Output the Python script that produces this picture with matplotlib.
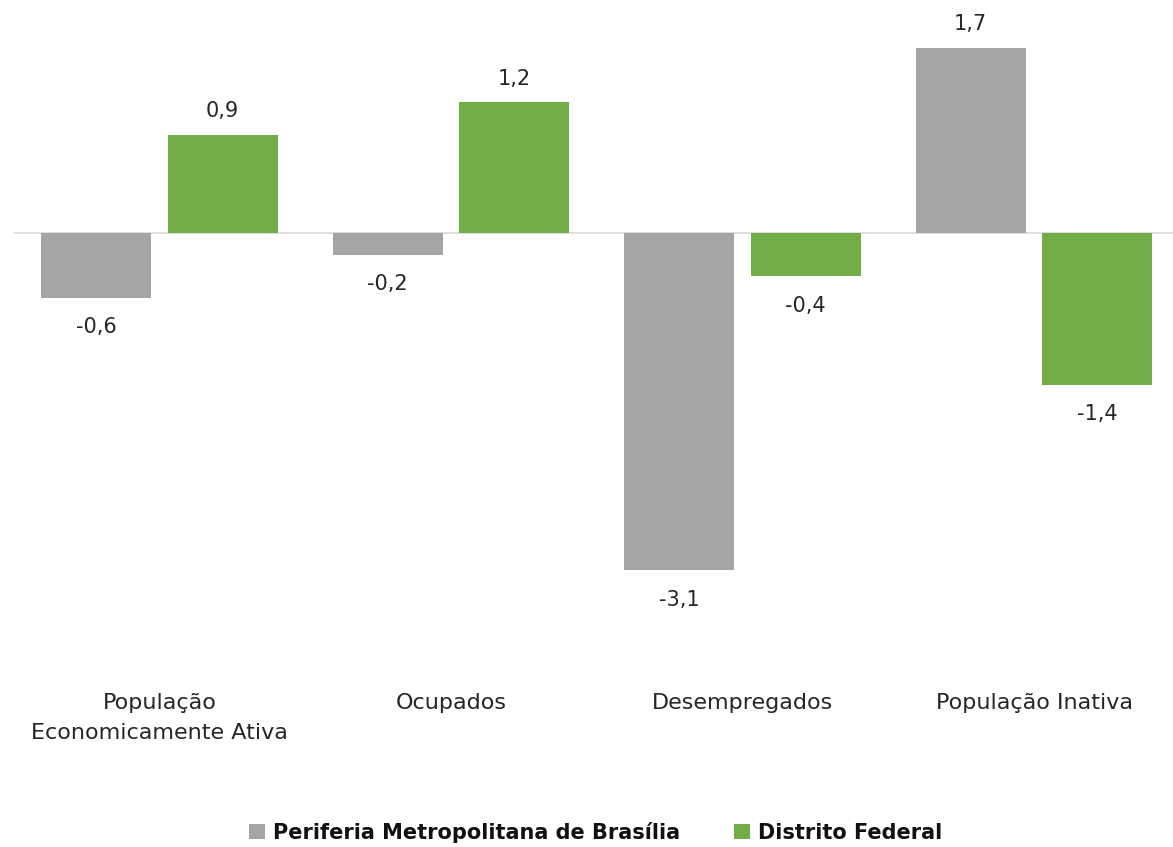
import matplotlib
matplotlib.use("Agg")
import matplotlib.pyplot as plt
import numpy as np

categories = ["População\nEconomicamente Ativa", "Ocupados", "Desempregados", "População Inativa"]
periferia = [-0.6, -0.2, -3.1, 1.7]
distrito = [0.9, 1.2, -0.4, -1.4]
series_names = ["Periferia Metropolitana de Brasília", "Distrito Federal"]

plt.rcParams['font.family'] = ['DejaVu Sans']

fig = plt.figure(figsize=(11.73, 8.47), dpi=100)
ax = fig.add_axes([13.75 / 1173, 207 / 847, 1 - 13.75 / 1173, 640 / 847])

x = np.arange(len(categories))
w = 0.377
off = 0.217
b1 = ax.bar(x - off, periferia, w, color='#a5a5a5', label=series_names[0])
b2 = ax.bar(x + off, distrito, w, color='#70ad47', label=series_names[1])

ax.axhline(0, color='#d9d9d9', lw=1.2, zorder=0)

for bars, vals in [(b1, periferia), (b2, distrito)]:
    for b, v in zip(bars, vals):
        cx = b.get_x() + b.get_width() / 2
        dy = 17 if v >= 0 else -21
        ax.annotate(f"{v:.1f}".replace('.', ','), (cx, v), xytext=(0, dy),
                    textcoords='offset points', ha='center', va='center',
                    fontsize=15, color='#262626')

ax.set_xlim(-0.5, 3.477)
ax.set_ylim(-3.74, 2.14)
ax.set_xticks([])
ax.set_yticks([])
for s in ax.spines.values():
    s.set_visible(False)

# category labels, one text per line
for i, c in enumerate(categories):
    cx = (13.75 + 291.5 * (i + 0.5)) / 1173
    for j, line in enumerate(c.split('\n')):
        fig.text(cx, 1 - (709 + 30 * j) / 847, line, ha='center', va='baseline',
                 fontsize=16, color='#262626')

leg = fig.legend(handles=[b1, b2], loc='center', bbox_to_anchor=(0.508, 1 - 832 / 847),
                 ncol=2, frameon=False, handlelength=0.75, handleheight=0.75,
                 handletextpad=0.4, columnspacing=2.6,
                 prop={'weight': 'bold', 'size': 15})
for t in leg.get_texts():
    t.set_color('#111111')

fig.savefig("out.png", dpi=100, facecolor='white')
